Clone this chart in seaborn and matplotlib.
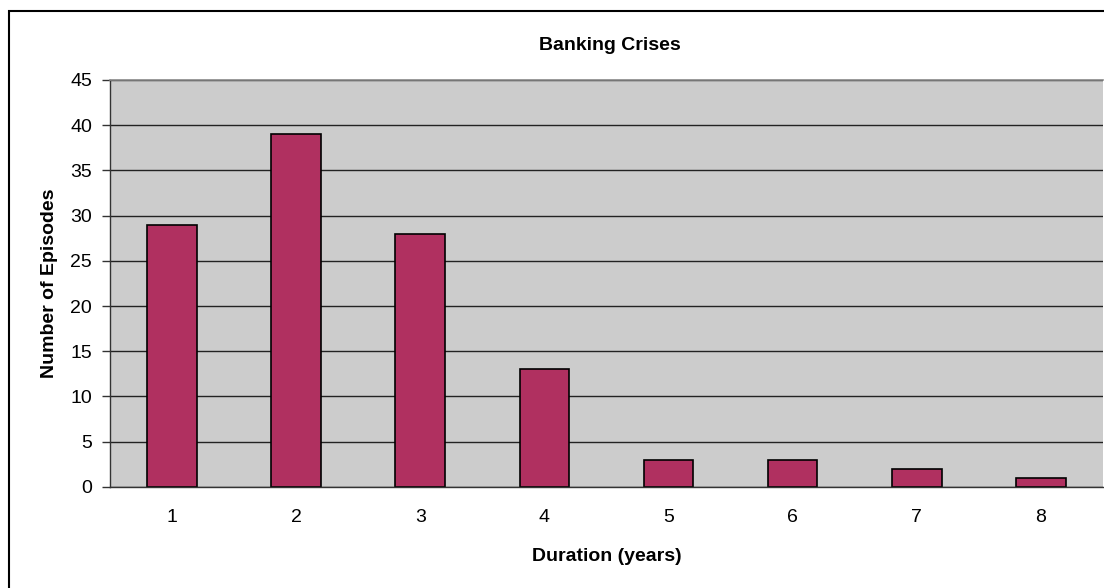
import numpy as np
import pandas as pd
import matplotlib
matplotlib.use("Agg")
import matplotlib.pyplot as plt
from matplotlib.patches import Rectangle
import seaborn as sns

# data
durations = ["1", "2", "3", "4", "5", "6", "7", "8"]
episodes = [29, 39, 28, 13, 3, 3, 2, 1]
y_ticks = [0, 5, 10, 15, 20, 25, 30, 35, 40, 45]

df = pd.DataFrame({"Duration": durations, "Episodes": episodes})

sns.set_style("white")
plt.rcParams["font.family"] = ["Liberation Sans", "DejaVu Sans"]
plt.rcParams["text.color"] = "black"
plt.rcParams["xtick.color"] = "black"
plt.rcParams["ytick.color"] = "black"
plt.rcParams["axes.labelcolor"] = "black"

fig = plt.figure(figsize=(11.04, 5.88), dpi=100)
ax = fig.add_axes([0.0996, 0.172, 0.8994, 0.692])
ax.set_facecolor("#CCCCCC")

sns.barplot(data=df, x="Duration", y="Episodes", color="#B03060",
            width=0.4, edgecolor="black", linewidth=1.2, saturation=1, ax=ax)

ax.set_ylim(0, 45)
ax.set_xlim(-0.5, len(durations) - 0.5)
ax.set_yticks(y_ticks)
ax.yaxis.grid(True, color="#222222", linewidth=1)
ax.set_axisbelow(True)
# top edge of the plot area is a lighter line
ax.spines["top"].set_visible(True)
ax.spines["top"].set_color("#888888")
ax.spines["top"].set_linewidth(1.2)
ax.spines["top"].set_zorder(3)

# x ticks sit between categories, labels centered under bars
ax.set_xticks(np.arange(-0.5, len(durations), 1.0), minor=True)
ax.tick_params(axis="x", which="major", length=0, pad=16, labelsize=14)
ax.tick_params(axis="x", which="minor", length=6, width=1, direction="out", color="#333333")
ax.tick_params(axis="y", length=6, width=1, direction="out", pad=7, labelsize=14, color="#333333")
ax.tick_params(axis="both", bottom=True, left=True)

ax.spines["right"].set_visible(False)
for side in ["left", "bottom"]:
    ax.spines[side].set_color("#333333")
    ax.spines[side].set_linewidth(1)

ax.set_xlabel("Duration (years)", fontsize=14, fontweight="bold", labelpad=16)
ax.set_ylabel("Number of Episodes", fontsize=14, fontweight="bold", labelpad=9)
fig.text(0.5525, 0.923, "Banking Crises", ha="center", va="center",
         fontsize=14, fontweight="bold")

# outer chart frame
fig.patches.append(Rectangle((9 / 1104, -0.01), 1.1, 1 - 11 / 588 + 0.01,
                             transform=fig.transFigure, fill=False,
                             edgecolor="black", linewidth=1.5))

fig.savefig("out.png", dpi=100)
